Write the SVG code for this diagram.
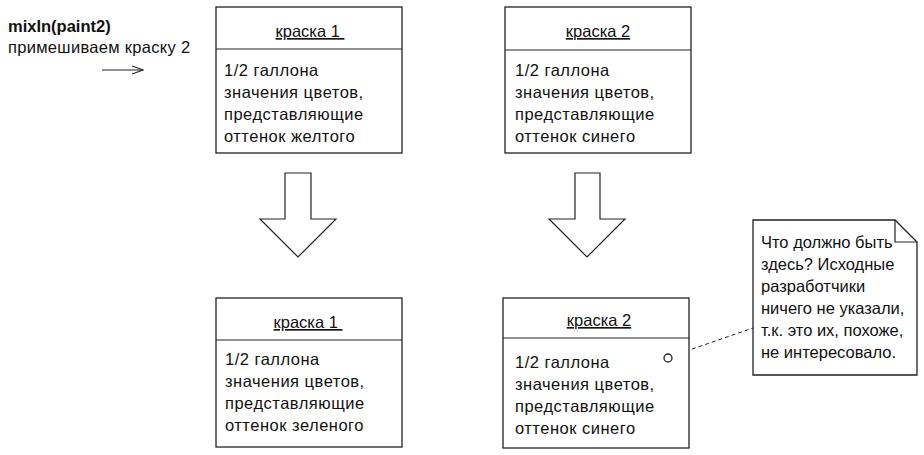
<svg xmlns="http://www.w3.org/2000/svg" width="924" height="455" viewBox="0 0 924 455">
<defs>
<style>
text{font-family:"Liberation Sans",Arial,sans-serif;font-size:16.5px;fill:#111;}
.b{font-weight:bold;}
.sp{letter-spacing:0.5px;}
.hd{text-anchor:middle;text-decoration:underline;}
.box{fill:#fff;stroke:#222;stroke-width:1.3;}
.ln{fill:none;stroke:#222;stroke-width:1.2;}
.dash{fill:none;stroke:#222;stroke-width:1;stroke-dasharray:4 3;}
</style>
<marker id="open" markerWidth="12" markerHeight="10" refX="11" refY="5" orient="auto" markerUnits="userSpaceOnUse">
<path d="M0,1 L11,5 L0,9" fill="none" stroke="#222" stroke-width="1.1"/>
</marker>
</defs>
<rect width="924" height="455" fill="#fff"/>

<g id="message">
<text class="b" x="8" y="32">mixIn(paint2)</text>
<text x="8" y="53" style="letter-spacing:0.3px">примешиваем краску 2</text>
</g>

<g id="connectors">
<line class="ln" x1="102" y1="70" x2="143" y2="70" marker-end="url(#open)"/>
<path id="arrow1" class="ln" fill="#fff" d="M285,173 L311,173 L311,219 L336,219 L298,257 L260,219 L285,219 Z"/>
<path id="arrow2" class="ln" fill="#fff" d="M575,173 L600,173 L600,219 L625,219 L587,257 L549,219 L575,219 Z"/>
<line class="dash" x1="672" y1="356" x2="753" y2="328"/>
</g>

<g id="paint1-before">
<rect class="box" x="216" y="7" width="186" height="146"/>
<line class="ln" x1="216" y1="49" x2="402" y2="49"/>
<text class="hd" x="310" y="37" xml:space="preserve">краска 1 </text>
<text class="sp" x="224" y="76">1/2 галлона</text>
<text class="sp" x="224" y="98">значения цветов,</text>
<text class="sp" x="224" y="120">представляющие</text>
<text class="sp" x="224" y="142">оттенок желтого</text>
</g>

<g id="paint2-before">
<rect class="box" x="505" y="7" width="186" height="146"/>
<line class="ln" x1="505" y1="50" x2="691" y2="50"/>
<text class="hd" x="598" y="37">краска 2</text>
<text class="sp" x="515" y="76">1/2 галлона</text>
<text class="sp" x="515" y="98">значения цветов,</text>
<text class="sp" x="515" y="120">представляющие</text>
<text class="sp" x="515" y="142">оттенок синего</text>
</g>

<g id="paint1-after">
<rect class="box" x="216" y="298" width="186" height="149"/>
<line class="ln" x1="216" y1="340" x2="402" y2="340"/>
<text class="hd" x="308" y="328" xml:space="preserve">краска 1 </text>
<text class="sp" x="225" y="365">1/2 галлона</text>
<text class="sp" x="225" y="387">значения цветов,</text>
<text class="sp" x="225" y="409">представляющие</text>
<text class="sp" x="225" y="431">оттенок зеленого</text>
</g>

<g id="paint2-after">
<rect class="box" x="503" y="298" width="186" height="150"/>
<line class="ln" x1="503" y1="338" x2="689" y2="338"/>
<text class="hd" x="599" y="326">краска 2</text>
<text class="sp" x="515" y="368">1/2 галлона</text>
<text class="sp" x="515" y="390">значения цветов,</text>
<text class="sp" x="515" y="412">представляющие</text>
<text class="sp" x="515" y="434">оттенок синего</text>
<circle class="box" cx="668" cy="358" r="4" stroke-width="1"/>
</g>

<g id="note">
<path class="box" d="M753,220 L895,220 L917,242 L917,375 L753,375 Z"/>
<polyline class="ln" points="895,220 895,242 917,242"/>
<text x="761" y="248">Что должно быть</text>
<text x="761" y="270">здесь? Исходные</text>
<text x="761" y="292">разработчики</text>
<text x="761" y="314">ничего не указали,</text>
<text x="761" y="336">т.к. это их, похоже,</text>
<text x="761" y="358">не интересовало.</text>
</g>
</svg>
